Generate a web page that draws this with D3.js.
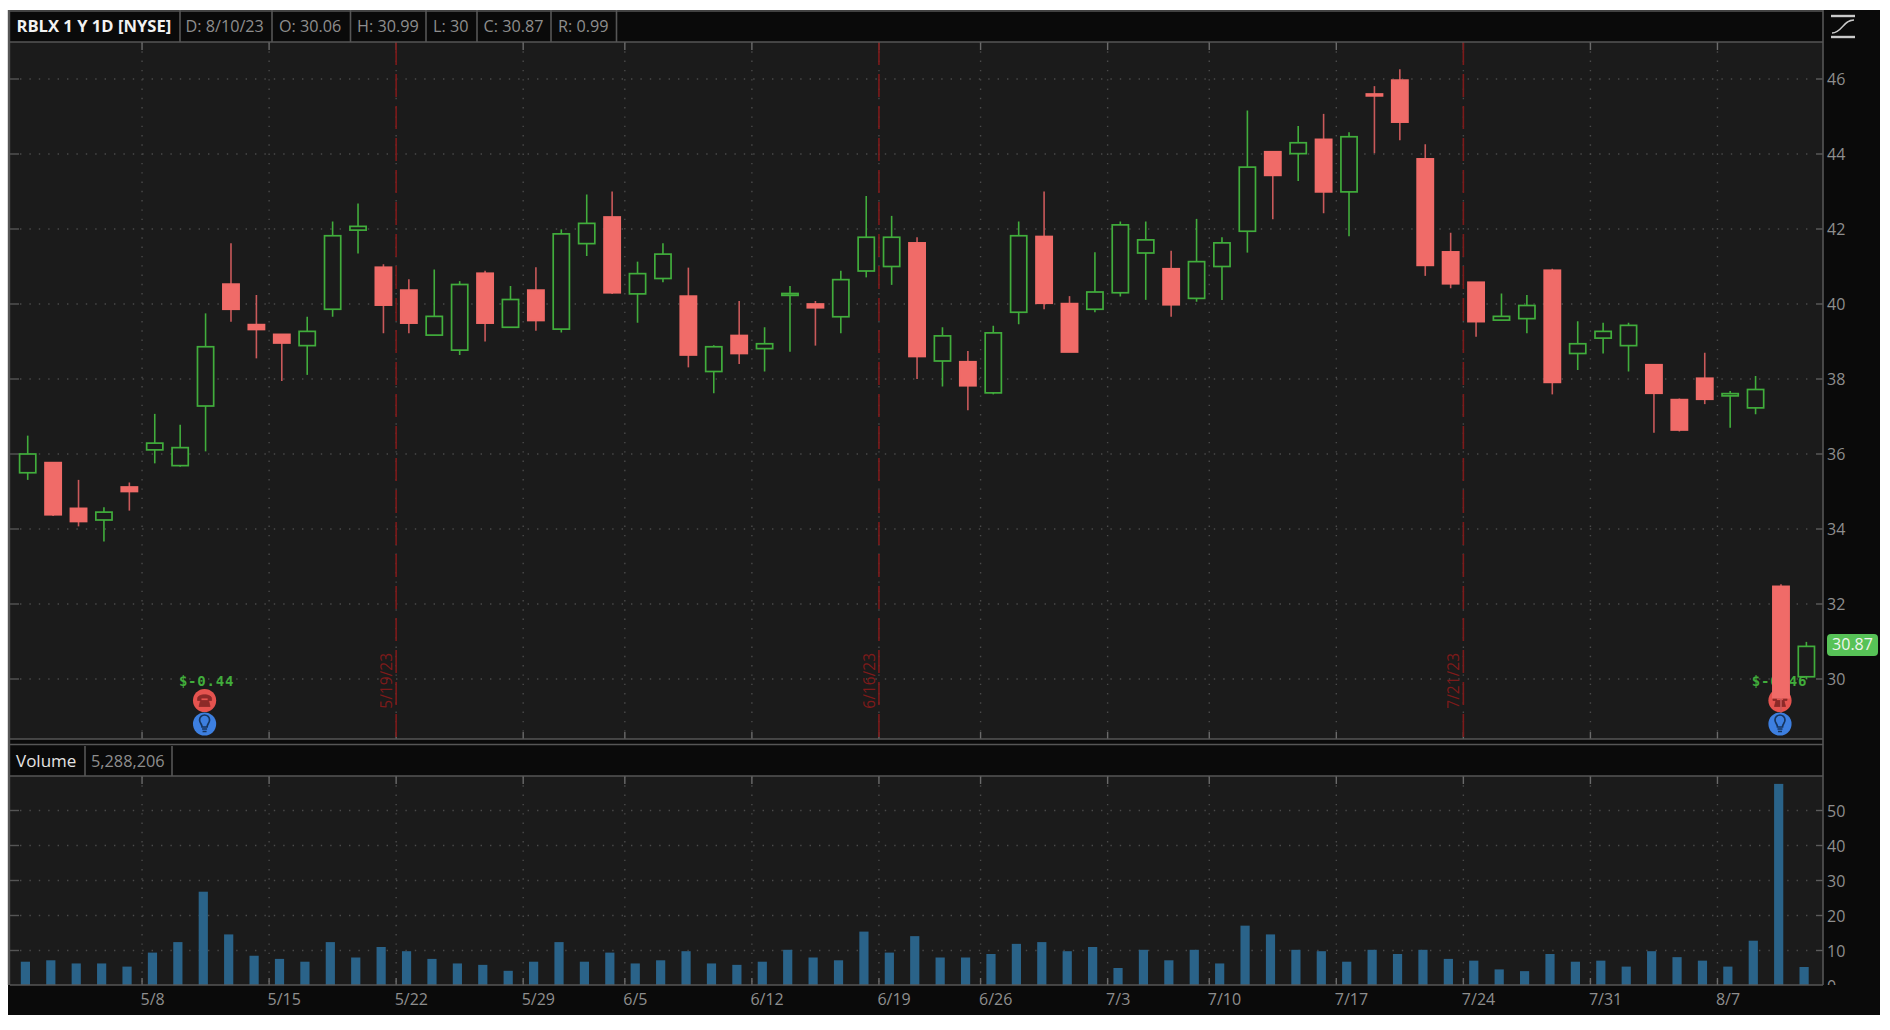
<!DOCTYPE html>
<html>
<head>
<meta charset="utf-8">
<script src="https://d3js.org/d3.v7.min.js"></script>
<style>
html, body { margin: 0; padding: 0; background: #fff; }
svg { display: block; }
text { font-family: "Open Sans", sans-serif; }
</style>
</head>
<body>
<div id="chart"></div>
<script>
// trading days, 5/1/23 to 8/10/23
var days = ["5/1","5/2","5/3","5/4","5/5","5/8","5/9","5/10","5/11","5/12","5/15","5/16","5/17","5/18","5/19",
  "5/22","5/23","5/24","5/25","5/26","5/30","5/31","6/1","6/2","6/5","6/6","6/7","6/8","6/9","6/12","6/13","6/14","6/15","6/16",
  "6/20","6/21","6/22","6/23","6/26","6/27","6/28","6/29","6/30","7/3","7/5","7/6","7/7","7/10","7/11","7/12","7/13","7/14",
  "7/17","7/18","7/19","7/20","7/21","7/24","7/25","7/26","7/27","7/28","7/31","8/1","8/2","8/3","8/4","8/7","8/8","8/9","8/10"];

var opens = [35.5,35.77,34.55,34.24,35.12,36.11,35.69,37.28,40.53,39.45,39.19,38.89,39.86,41.97,40.98,40.37,39.17,38.77,40.82,39.38,
  40.37,39.33,41.61,42.32,40.27,40.68,40.21,38.2,39.16,38.81,40.23,40.0,39.66,40.88,41.0,41.63,38.48,38.46,37.63,39.78,
  41.8,40.01,39.86,40.3,41.36,40.94,40.15,41.0,41.94,44.06,44.01,44.39,42.99,45.6,45.97,43.87,41.39,40.58,39.57,39.61,
  40.9,38.68,39.09,38.89,38.38,37.45,38.02,37.55,37.23,32.47,30.06];
var highs = [36.49,35.77,35.31,34.58,35.24,37.07,36.78,39.75,41.62,40.24,39.19,39.66,42.2,42.68,41.06,40.66,40.92,40.61,40.89,40.48,
  40.98,41.99,42.92,43.0,41.13,41.62,40.97,38.9,40.08,39.38,40.48,40.08,40.89,42.88,42.35,41.78,39.38,38.75,39.42,42.2,
  43.0,40.21,41.38,42.2,42.2,41.42,42.27,41.78,45.16,44.06,44.75,45.07,44.58,45.81,46.26,44.26,41.9,40.58,40.28,40.24,
  40.94,39.54,39.5,39.5,38.38,37.48,38.7,37.68,38.08,32.53,30.99];
var lows = [35.31,34.35,34.07,33.67,34.49,35.75,35.66,36.07,39.53,38.55,37.95,38.11,39.66,41.35,39.22,39.22,39.17,38.64,39.0,39.38,
  39.29,39.24,41.28,40.27,39.5,40.58,38.31,37.62,38.4,38.2,38.73,38.89,39.22,40.71,40.51,38.0,37.8,37.17,37.59,39.46,
  39.86,38.72,39.78,40.2,40.11,39.66,40.06,40.11,41.37,42.26,43.28,42.42,41.81,44.02,44.37,40.75,40.42,39.13,39.57,39.22,
  37.59,38.24,38.68,38.2,36.57,36.6,37.33,36.7,37.06,29.1,30];
var closes = [36.0,34.38,34.2,34.45,35.0,36.29,36.17,38.86,39.86,39.32,38.96,39.27,41.82,42.07,39.97,39.49,39.67,40.52,39.49,40.12,
  39.56,41.87,42.15,40.3,40.81,41.33,38.64,38.86,38.68,38.94,40.28,39.9,40.65,41.78,41.78,38.6,39.15,37.82,39.23,41.82,
  40.02,38.72,40.32,42.11,41.71,39.98,41.13,41.63,43.65,43.43,44.3,42.99,44.46,45.55,44.85,41.03,40.54,39.53,39.67,39.96,
  37.91,38.94,39.27,39.43,37.62,36.64,37.46,37.61,37.72,29.5,30.87];
// millions of shares
var volumes = [6.8,7.2,6.3,6.3,5.4,9.4,12.4,26.8,14.6,8.5,7.6,6.8,12.4,8.0,11.0,9.8,7.6,6.3,5.9,4.2,6.8,12.4,6.8,9.4,6.3,7.2,9.8,
  6.3,5.9,6.8,10.2,8.0,7.2,15.4,9.4,14.1,8.0,8.0,9.0,11.9,12.4,9.8,11.0,5.0,10.2,7.2,10.2,6.3,17.1,14.6,10.2,9.8,6.8,
  10.2,9.0,10.2,7.6,7.1,4.6,4.1,9.0,6.8,7.1,5.4,9.8,8.1,7.1,5.4,12.8,57.6,5.288];

var priceTicks = [30,32,34,36,38,40,42,44,46];
var volumeTicks = [0,10,20,30,40,50];
var weekTicks = ["5/8","5/15","5/22","5/30","6/5","6/12","6/20","6/26","7/3","7/10","7/17","7/24","7/31","8/7"];
var weekLabels = ["5/8","5/15","5/22","5/29","6/5","6/12","6/19","6/26","7/3","7/10","7/17","7/24","7/31","8/7"];

// expiration lines sit on the left edge of the next slot
var expiryTicks = ["5/22","6/20","7/24"];
var expiryLabels = ["5/19/23","6/16/23","7/21/23"];

var earningsDays = ["5/10","8/9"];
var earningsLabels = ["$-0.44","$-0.46"];

var headerCells = [
  {t:"D: 8/10/23", x:185.5, end:272},
  {t:"O: 30.06", x:279, end:350.5},
  {t:"H: 30.99", x:357, end:426},
  {t:"L: 30", x:433, end:477},
  {t:"C: 30.87", x:483.5, end:551},
  {t:"R: 0.99", x:558, end:616.5}
];

var svgWidth = 1890, svgHeight = 1030;
var left = 10, right = 1823;
var frameLeft = 8, frameRight = 1880, frameTop = 10, frameBottom = 1015;
var priceTop = 42, priceBottom = 739;
var volHeaderTop = 746, volTop = 776, volBottom = 985;

var upColor = "#41ad3c", downColor = "#f06b68", downWick = "#c9595a";
var gridColor = "#4a4a4a", lineColor = "#565656", tickText = "#8e8e8e", expiryColor = "#7d1a1a";

var svg = d3.select("#chart").append("svg")
  .attr("width", svgWidth)
  .attr("height", svgHeight);

var x = d3.scaleBand().domain(days).range([15, 1819.1]);
// same slots, but returns the left edge of each one
var slot = d3.scalePoint().domain(days).range([15, 15 + x.step() * (days.length - 1)]);
var y = d3.scaleLinear().domain([30, 46]).range([679, 79]);
var yVol = d3.scaleLinear().domain([0, 50]).range([985.5, 810.5]);

// panels
svg.append("rect").attr("x", frameLeft).attr("y", frameTop)
  .attr("width", frameRight - frameLeft).attr("height", frameBottom - frameTop).attr("fill", "#0a0a0a");
svg.append("rect").attr("x", left).attr("y", priceTop)
  .attr("width", right - left).attr("height", priceBottom - priceTop).attr("fill", "#1b1b1b");
svg.append("rect").attr("x", left).attr("y", volTop)
  .attr("width", right - left).attr("height", volBottom - volTop).attr("fill", "#1b1b1b");

function grid(g, yScale, ticks, top, bottom) {
  // horizontal dots
  g.selectAll(".h").data(ticks).enter().append("line")
    .attr("x1", 20).attr("x2", 1812)
    .attr("y1", d => yScale(d)).attr("y2", d => yScale(d))
    .attr("stroke", gridColor).attr("stroke-width", 1.4).attr("stroke-dasharray", "1.4 8");
  // vertical dots plus the small solid stubs top and bottom
  g.selectAll(".v").data(weekTicks).enter().append("line")
    .attr("x1", d => slot(d)).attr("x2", d => slot(d))
    .attr("y1", top).attr("y2", bottom)
    .attr("stroke", gridColor).attr("stroke-width", 1.4).attr("stroke-dasharray", "1.4 7.9");
  g.selectAll(".s1").data(weekTicks).enter().append("line")
    .attr("x1", d => slot(d)).attr("x2", d => slot(d))
    .attr("y1", top).attr("y2", top + 8)
    .attr("stroke", "#6a6a6a").attr("stroke-width", 1.4);
  g.selectAll(".s2").data(weekTicks).enter().append("line")
    .attr("x1", d => slot(d)).attr("x2", d => slot(d))
    .attr("y1", bottom - 7).attr("y2", bottom)
    .attr("stroke", "#6a6a6a").attr("stroke-width", 1.4);
  // short dash at the left edge
  g.selectAll(".l").data(ticks).enter().append("line")
    .attr("x1", left).attr("x2", left + 9)
    .attr("y1", d => yScale(d)).attr("y2", d => yScale(d))
    .attr("stroke", "#555").attr("stroke-width", 1.4);
}

grid(svg.append("g"), y, priceTicks, priceTop, priceBottom);
grid(svg.append("g"), yVol, volumeTicks.slice(1), volTop, volBottom);

// expiration lines
var expiry = svg.append("g");
expiry.selectAll("line").data(expiryTicks).enter().append("line")
  .attr("x1", d => slot(d)).attr("x2", d => slot(d))
  .attr("y1", priceTop).attr("y2", priceBottom)
  .attr("stroke", expiryColor).attr("stroke-width", 1.6).attr("stroke-dasharray", "23 9");
expiry.selectAll("text").data(expiryTicks).enter().append("text")
  .text((d, i) => expiryLabels[i])
  .attr("transform", d => `translate(${slot(d) - 4}, 653) rotate(-90)`)
  .attr("text-anchor", "end")
  .attr("font-size", 15.5)
  .attr("fill", expiryColor);

// earnings markers, under the candles
var earningsY = 700.5, dividendY = 724;
var earnings = svg.append("g");
earnings.selectAll("text").data(earningsDays).enter().append("text")
  .text((d, i) => earningsLabels[i])
  .attr("x", (d, i) => x(d) + x.bandwidth() / 2 + (i ? -1.5 : 1))
  .attr("y", 686)
  .attr("text-anchor", "middle")
  .attr("fill", upColor)
  .attr("font-size", 14)
  .attr("font-weight", "bold")
  .style("font-family", "'DejaVu Sans Mono', monospace")
  .style("letter-spacing", "0.8px");
earnings.selectAll("circle.red").data(earningsDays).enter().append("circle")
  .attr("cx", d => x(d) + x.bandwidth() / 2 - 1)
  .attr("cy", earningsY).attr("r", 11.6).attr("fill", "#e5534f");
earnings.selectAll("circle.blue").data(earningsDays).enter().append("circle")
  .attr("cx", d => x(d) + x.bandwidth() / 2 - 1)
  .attr("cy", dividendY).attr("r", 11.6).attr("fill", "#3d7fe0");

// phone and bulb glyphs
earnings.selectAll("path.phone").data(earningsDays).enter().append("path")
  .attr("transform", d => `translate(${x(d) + x.bandwidth() / 2 - 1}, ${earningsY})`)
  .attr("d", "M-7,-2 C-7,-7 7,-7 7,-2 L7,0 L3.5,0 L3.5,-2.5 L-3.5,-2.5 L-3.5,0 L-7,0 Z M-4,0 L4,0 L5.5,6 L-5.5,6 Z")
  .attr("fill", "#8c2a28").attr("stroke", "#8c2a28").attr("stroke-width", 0.8);
earnings.selectAll("path.bulb").data(earningsDays).enter().append("path")
  .attr("transform", d => `translate(${x(d) + x.bandwidth() / 2 - 1}, ${dividendY})`)
  .attr("d", "M-2.5,3 C-2.5,0 -5,-1 -5,-4 A5,5 0 0 1 5,-4 C5,-1 2.5,0 2.5,3 Z M-2.5,5 L2.5,5 M-2,7.5 L2,7.5")
  .attr("fill", "none").attr("stroke", "#16355f").attr("stroke-width", 1.7);

// candles
var bodyWidth = 16.2;
var candles = svg.append("g").selectAll("g").data(days).enter().append("g")
  .attr("transform", d => `translate(${x(d) + x.bandwidth() / 2}, 0)`);

candles.append("line")
  .attr("y1", (d, i) => y(highs[i])).attr("y2", (d, i) => y(lows[i]))
  .attr("stroke", (d, i) => closes[i] >= opens[i] ? upColor : downWick)
  .attr("stroke-width", 1.6);

candles.append("rect")
  .attr("x", -bodyWidth / 2)
  .attr("width", bodyWidth)
  .attr("y", (d, i) => y(Math.max(opens[i], closes[i])))
  .attr("height", (d, i) => Math.abs(y(opens[i]) - y(closes[i])))
  .attr("fill", (d, i) => closes[i] >= opens[i] ? "#1b1b1b" : downColor)
  .attr("stroke", (d, i) => closes[i] >= opens[i] ? upColor : downColor)
  .attr("stroke-width", 1.7);

// volume bars
svg.append("g").selectAll("rect").data(days).enter().append("rect")
  .attr("x", d => x(d) + x.bandwidth() / 2 - 2.3 - 4.6)
  .attr("width", 9.2)
  .attr("y", (d, i) => yVol(volumes[i]))
  .attr("height", (d, i) => yVol(0) - yVol(volumes[i]))
  .attr("fill", "#2a6389");

// right axes
function styleAxis(g) {
  g.select(".domain").remove();
  g.selectAll("line").attr("stroke", "#5c5c5c").attr("stroke-width", 1.4);
  g.selectAll("text")
    .attr("fill", tickText)
    .attr("font-size", 16)
    .attr("dy", "0.36em")
    .attr("x", 4);
}
svg.append("g")
  .attr("transform", `translate(${right}, 0)`)
  .call(d3.axisRight(y).tickValues(priceTicks).tickSize(0).tickFormat(d3.format("d")))
  .call(styleAxis);
svg.append("g")
  .attr("transform", `translate(${right}, 0)`)
  .call(d3.axisRight(yVol).tickValues(volumeTicks).tickSize(0).tickFormat(d3.format("d")))
  .call(styleAxis);

// tick stubs against the right edge
[[y, priceTicks], [yVol, volumeTicks.slice(1)]].forEach(function(p) {
  svg.append("g").selectAll("line").data(p[1]).enter().append("line")
    .attr("x1", right - 7).attr("x2", right)
    .attr("y1", d => p[0](d)).attr("y2", d => p[0](d))
    .attr("stroke", "#5c5c5c").attr("stroke-width", 1.4);
});

// black strip under the volume pane, hides the lower half of the 0
svg.append("rect").attr("x", frameLeft).attr("y", volBottom)
  .attr("width", frameRight - frameLeft).attr("height", frameBottom - volBottom).attr("fill", "#0a0a0a");

var bottomAxis = svg.append("g")
  .attr("transform", `translate(0, ${volBottom})`)
  .call(d3.axisBottom(slot).tickValues(weekTicks).tickSize(0).tickFormat((d, i) => weekLabels[i]));
bottomAxis.select(".domain").remove();
bottomAxis.selectAll("text")
  .attr("fill", tickText)
  .attr("font-size", 16)
  .attr("text-anchor", "start")
  .attr("x", -2)
  .attr("y", 8.5)
  .attr("dy", "0.71em");

// frame lines
function hline(yy, x1, x2, w) {
  svg.append("line").attr("x1", x1).attr("x2", x2).attr("y1", yy).attr("y2", yy)
    .attr("stroke", lineColor).attr("stroke-width", w || 1.6);
}
function vline(xx, y1, y2, w) {
  svg.append("line").attr("x1", xx).attr("x2", xx).attr("y1", y1).attr("y2", y2)
    .attr("stroke", lineColor).attr("stroke-width", w || 1.6);
}
hline(11, frameLeft, right);
hline(priceTop, left, right);
hline(priceBottom, left, right);
hline(744.5, frameLeft, right);
hline(volTop, left, right);
hline(volBottom, left, right);
vline(9, frameTop, volBottom, 2.4);
vline(right, frameTop, volBottom);

// header strip
svg.append("text").text("RBLX 1 Y 1D [NYSE]")
  .attr("x", 16.5).attr("y", 32)
  .attr("fill", "#f2f2f2").attr("font-size", 16.6).attr("font-weight", "bold");
vline(180, frameTop, priceTop);
svg.append("g").selectAll("text").data(headerCells).enter().append("text")
  .text(d => d.t)
  .attr("x", d => d.x).attr("y", 32)
  .attr("fill", tickText).attr("font-size", 16.2);
headerCells.forEach(d => vline(d.end, frameTop, priceTop));

svg.append("text").text("Volume")
  .attr("x", 16).attr("y", 766.5)
  .attr("fill", "#e4e4e4").attr("font-size", 17);
vline(85, volHeaderTop, volTop);
svg.append("text").text("5,288,206")
  .attr("x", 91).attr("y", 766.5)
  .attr("fill", tickText).attr("font-size", 16.3);
vline(172, volHeaderTop, volTop);

// last price bubble
var lastClose = closes[closes.length - 1];
svg.append("rect")
  .attr("x", 1827).attr("y", y(lastClose) - 12.5)
  .attr("width", 51).attr("height", 22).attr("rx", 4)
  .attr("fill", "#57c257");
svg.append("text").text(lastClose)
  .attr("x", 1852.5).attr("y", y(lastClose) + 4)
  .attr("text-anchor", "middle")
  .attr("fill", "#f0f5ee").attr("font-size", 16);

// autoscale toggle, top right
var toggle = svg.append("g").attr("stroke", "#c9c9c9").attr("fill", "none");
toggle.append("line").attr("x1", 1831).attr("x2", 1855).attr("y1", 16).attr("y2", 16).attr("stroke-width", 2.4);
toggle.append("line").attr("x1", 1831).attr("x2", 1855).attr("y1", 37).attr("y2", 37).attr("stroke-width", 2.4);
toggle.append("path").attr("d", "M1832,33 C1842,33 1843,20 1854,20").attr("stroke-width", 1.4);
</script>
</body>
</html>
